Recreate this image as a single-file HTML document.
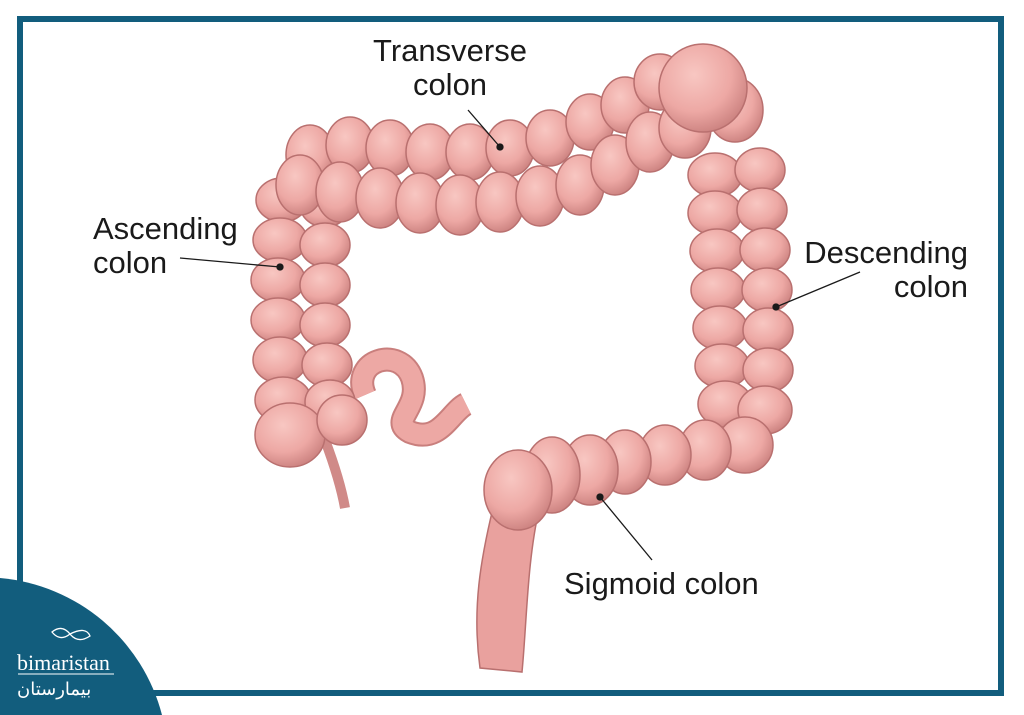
<!DOCTYPE html>
<html><head><meta charset="utf-8"><style>
html,body{margin:0;padding:0;background:#fff;}
body{width:1024px;height:715px;position:relative;overflow:hidden;font-family:"Liberation Sans",sans-serif;}
.t{position:absolute;font-size:31px;color:#1a1a1a;line-height:34px;}
</style></head><body>
<svg width="1024" height="715" style="position:absolute;left:0;top:0">
<defs>
<radialGradient id="g" cx="40%" cy="35%" r="70%">
<stop offset="0" stop-color="#f8c7c2"/><stop offset="0.6" stop-color="#eda8a4"/><stop offset="1" stop-color="#c97f7d"/>
</radialGradient>
</defs>
<rect x="20" y="19" width="981" height="674" fill="none" stroke="#125d7d" stroke-width="6"/>
<g stroke="#b9706f" stroke-width="1.5" fill="url(#g)">
<path d="M495,500 C480,560 472,610 480,668 L522,672 C527,620 527,560 540,505 Z" fill="#e9a19e"/>
<path d="M325,440 Q340,480 345,508" fill="none" stroke="#d08a88" stroke-width="10"/>
<path d="M365,395 C350,360 400,345 412,378 C422,408 388,420 410,432 C440,444 450,412 466,404" fill="none" stroke="#c97f7d" stroke-width="24"/>
<path d="M365,395 C350,360 400,345 412,378 C422,408 388,420 410,432 C440,444 450,412 466,404" fill="none" stroke="#eda8a4" stroke-width="20"/>
<ellipse cx="282" cy="200" rx="26" ry="22"/><ellipse cx="325" cy="205" rx="25" ry="22"/>
<ellipse cx="280" cy="240" rx="27" ry="22"/><ellipse cx="325" cy="245" rx="25" ry="22"/>
<ellipse cx="278" cy="280" rx="27" ry="22"/><ellipse cx="325" cy="285" rx="25" ry="22"/>
<ellipse cx="278" cy="320" rx="27" ry="22"/><ellipse cx="325" cy="325" rx="25" ry="22"/>
<ellipse cx="280" cy="360" rx="27" ry="23"/><ellipse cx="327" cy="365" rx="25" ry="22"/>
<ellipse cx="283" cy="400" rx="28" ry="23"/><ellipse cx="330" cy="402" rx="25" ry="22"/>
<ellipse cx="290" cy="435" rx="35" ry="32"/><ellipse cx="342" cy="420" rx="25" ry="25"/>
<ellipse cx="310" cy="155" rx="24" ry="30"/><ellipse cx="350" cy="145" rx="24" ry="28"/><ellipse cx="390" cy="148" rx="24" ry="28"/><ellipse cx="430" cy="152" rx="24" ry="28"/><ellipse cx="470" cy="152" rx="24" ry="28"/><ellipse cx="510" cy="148" rx="24" ry="28"/><ellipse cx="550" cy="138" rx="24" ry="28"/><ellipse cx="590" cy="122" rx="24" ry="28"/><ellipse cx="625" cy="105" rx="24" ry="28"/><ellipse cx="660" cy="82" rx="26" ry="28"/>
<ellipse cx="300" cy="185" rx="24" ry="30"/><ellipse cx="340" cy="192" rx="24" ry="30"/><ellipse cx="380" cy="198" rx="24" ry="30"/><ellipse cx="420" cy="203" rx="24" ry="30"/><ellipse cx="460" cy="205" rx="24" ry="30"/><ellipse cx="500" cy="202" rx="24" ry="30"/><ellipse cx="540" cy="196" rx="24" ry="30"/><ellipse cx="580" cy="185" rx="24" ry="30"/><ellipse cx="615" cy="165" rx="24" ry="30"/><ellipse cx="650" cy="142" rx="24" ry="30"/><ellipse cx="685" cy="128" rx="26" ry="30"/>
<ellipse cx="735" cy="110" rx="28" ry="32"/>
<circle cx="703" cy="88" r="44"/>
<ellipse cx="715" cy="175" rx="27" ry="22"/><ellipse cx="760" cy="170" rx="25" ry="22"/>
<ellipse cx="715" cy="213" rx="27" ry="22"/><ellipse cx="762" cy="210" rx="25" ry="22"/>
<ellipse cx="717" cy="251" rx="27" ry="22"/><ellipse cx="765" cy="250" rx="25" ry="22"/>
<ellipse cx="718" cy="290" rx="27" ry="22"/><ellipse cx="767" cy="290" rx="25" ry="22"/>
<ellipse cx="720" cy="328" rx="27" ry="22"/><ellipse cx="768" cy="330" rx="25" ry="22"/>
<ellipse cx="722" cy="366" rx="27" ry="22"/><ellipse cx="768" cy="370" rx="25" ry="22"/>
<ellipse cx="725" cy="404" rx="27" ry="23"/><ellipse cx="765" cy="410" rx="27" ry="24"/>
<ellipse cx="745" cy="445" rx="28" ry="28"/><ellipse cx="705" cy="450" rx="26" ry="30"/><ellipse cx="665" cy="455" rx="26" ry="30"/><ellipse cx="625" cy="462" rx="26" ry="32"/><ellipse cx="590" cy="470" rx="28" ry="35"/><ellipse cx="552" cy="475" rx="28" ry="38"/><ellipse cx="518" cy="490" rx="34" ry="40"/>
</g>
<g stroke="#1a1a1a" stroke-width="1.3" fill="#1a1a1a">
<line x1="468" y1="110" x2="500" y2="147"/><circle cx="500" cy="147" r="3"/>
<line x1="180" y1="258" x2="280" y2="267"/><circle cx="280" cy="267" r="3"/>
<line x1="860" y1="272" x2="776" y2="307"/><circle cx="776" cy="307" r="3"/>
<line x1="652" y1="560" x2="600" y2="497"/><circle cx="600" cy="497" r="3"/>
</g>
<path d="M0,578 A184,184 0 0 1 162,715 L0,715 Z" fill="#125d7d"/>
<g stroke="#fff" stroke-width="1.3" fill="none">
<path d="M52,632 q10,-8 18,2 q8,10 20,2 q-4,-10 -20,-2 q-10,8 -18,-2z"/>
</g>
<line x1="18" y1="674" x2="114" y2="674" stroke="#fff" stroke-width="1"/>
<text x="17" y="670" font-family="Liberation Serif,serif" font-size="22" fill="#fff">bimaristan</text>
<text x="17" y="695" font-family="Liberation Sans,'DejaVu Sans',sans-serif" font-size="18" fill="#fff">بيمارستان</text>
</svg>
<div class="t" style="left:360px;top:34px;width:180px;text-align:center">Transverse<br>colon</div>
<div class="t" style="left:93px;top:212px">Ascending<br>colon</div>
<div class="t" style="left:780px;top:236px;width:188px;text-align:right">Descending<br>colon</div>
<div class="t" style="left:564px;top:567px">Sigmoid colon</div>
</body></html>
